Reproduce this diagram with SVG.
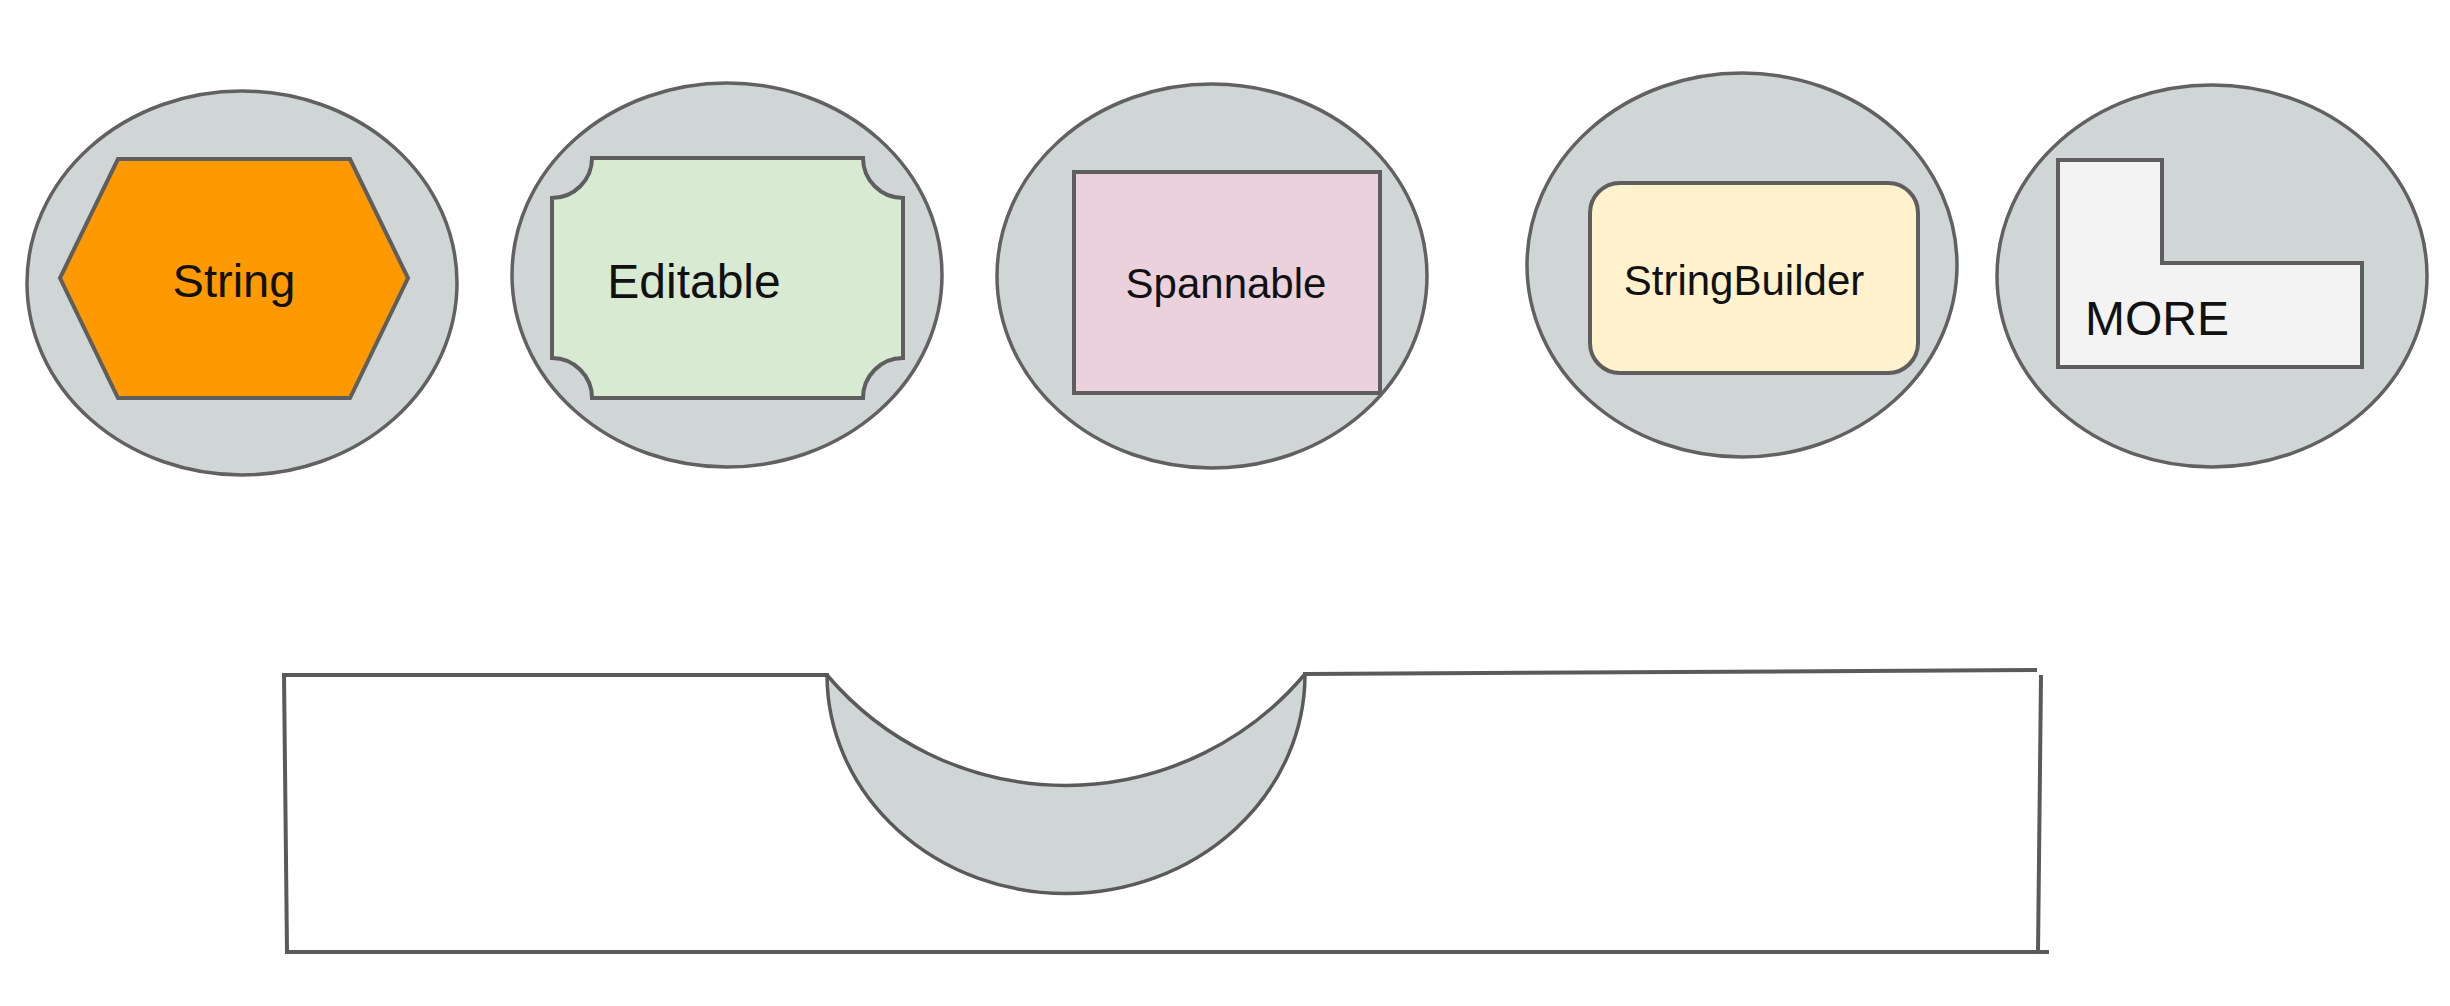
<svg xmlns="http://www.w3.org/2000/svg" width="2450" height="1006" viewBox="0 0 2450 1006">
<style>
.bg{fill:#ffffff}
.oval{fill:#d0d5d6;stroke:#616161;stroke-width:3.5}
.shape{stroke:#5e5e5e;stroke-width:4;stroke-linejoin:miter}
.lbl{font-family:"Liberation Sans",Arial,sans-serif;fill:#111111;text-anchor:middle}
.line{fill:none;stroke:#5a5a5a;stroke-width:4;stroke-linecap:square}
</style>
<rect class="bg" x="0" y="0" width="2450" height="1006"/>
<g id="node-string">
<ellipse class="oval" cx="242" cy="283" rx="215" ry="192"/>
<polygon class="shape" fill="#ff9900" points="118,159 350,159 408,278 350,398 118,398 60,278"/>
<text class="lbl" x="234" y="297" font-size="47">String</text>
</g>
<g id="node-editable">
<ellipse class="oval" cx="727" cy="275" rx="215" ry="192"/>
<path class="shape" fill="#d9ead3" d="M592,158 L863,158 A40,40 0 0 0 903,198 L903,358 A40,40 0 0 0 863,398 L592,398 A40,40 0 0 0 552,358 L552,198 A40,40 0 0 0 592,158 Z"/>
<text class="lbl" x="694" y="298" font-size="48">Editable</text>
</g>
<g id="node-spannable">
<ellipse class="oval" cx="1212" cy="276" rx="215" ry="192"/>
<rect class="shape" fill="#ead1dc" x="1074" y="172" width="306" height="221"/>
<text class="lbl" x="1226" y="298" font-size="42">Spannable</text>
</g>
<g id="node-stringbuilder">
<ellipse class="oval" cx="1742" cy="265" rx="215" ry="192"/>
<rect class="shape" fill="#fff2cc" x="1590" y="183" width="328" height="190" rx="30" ry="30"/>
<text class="lbl" x="1744" y="295" font-size="42">StringBuilder</text>
</g>
<g id="node-more">
<ellipse class="oval" cx="2212" cy="276" rx="215" ry="191"/>
<polygon class="shape" fill="#f3f3f3" points="2058,160 2162,160 2162,263 2362,263 2362,367 2058,367"/>
<text class="lbl" x="2157" y="335" font-size="48">MORE</text>
</g>
<g id="container">
<path class="line" d="M827,675 L284,675 L287,952 L2047,952"/>
<path class="line" d="M1305,674 L2035,670"/>
<path class="line" d="M2041,677 L2038,952"/>
<path fill="#d0d5d6" stroke="#5a5a5a" stroke-width="3.5" stroke-linejoin="round" d="M827,675 A239,219 0 0 0 1305,674 A313,313 0 0 1 827,675 Z"/>
</g>
</svg>
